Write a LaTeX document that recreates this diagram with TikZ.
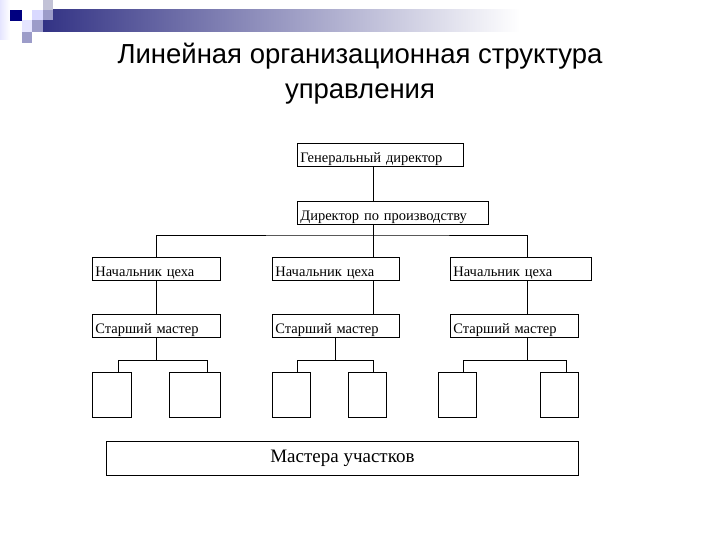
\documentclass[tikz,border=0pt]{standalone}
\usepackage{fontspec}
\setmainfont{Liberation Serif}
\newfontfamily\titlefont{Liberation Sans}
\begin{document}
\begin{tikzpicture}[x=1pt,y=-1pt,
  bx/.style={draw,thick,minimum height=23pt,text width=#1-6pt,inner xsep=3pt,inner ysep=0pt,text depth=2pt,text height=17pt,align=left,anchor=north west,font=\fontsize{14.5}{15}\selectfont},
  sq/.style={draw,thick,minimum width=#1,minimum height=45pt,anchor=north west,inner sep=0pt},
  ln/.style={thick}]
\useasboundingbox (0,0) rectangle (720,540);
\fill[white] (0,0) rectangle (720,540);
% decoration
\shade[left color=blue!40!black!80, right color=white] (43,10) rectangle (520,32);
\fill[left color=blue!10,right color=white] (0,0) rectangle (10,40);
\fill[blue!50!black] (10,10) rectangle (22,21);
\fill[blue!20!gray!40] (43,0) rectangle (53,10);
\fill[blue!15!white] (32,10) rectangle (43,20);
\fill[blue!30!gray!60] (43,10) rectangle (53,20);
\fill[blue!10!white] (22,20) rectangle (32,32);
\fill[blue!30!gray!60] (32,20) rectangle (43,32);
\fill[blue!30!gray!60] (22,32) rectangle (32,43);
% title
\node[font=\titlefont\fontsize{27.5}{35}\selectfont,align=center] (title) at (360,74) {Линейная организационная структура\\управления};
% nodes
\node[bx=166pt] (gd) at (297,143) {Генеральный директор};
\node[bx=191pt] (dp) at (297,201) {Директор по производству};
\node[bx=128pt] (n1) at (92,257) {Начальник цеха};
\node[bx=127pt] (n2) at (272,257) {Начальник цеха};
\node[bx=141pt] (n3) at (450,257) {Начальник цеха};
\node[bx=128pt] (s1) at (92,314) {Старший мастер};
\node[bx=127pt] (s2) at (272,314) {Старший мастер};
\node[bx=128pt] (s3) at (450,314) {Старший мастер};
\node[sq=39pt] (a1) at (92,372) {};
\node[sq=51pt] (a2) at (169,372) {};
\node[sq=38pt] (b1) at (272,372) {};
\node[sq=38pt] (b2) at (348,372) {};
\node[sq=38pt] (c1) at (438,372) {};
\node[sq=38pt] (c2) at (540,372) {};
\node[draw,thick,minimum width=472pt,minimum height=34pt,anchor=north west,font=\fontsize{19}{20}\selectfont] (m) at (106,441) {Мастера участков};
% connectors
\draw[ln] (gd.south -| 373,0) -- (dp.north -| 373,0);
\draw[ln] (dp.south -| 373,0) -- (n2.north -| 373,0);
\draw[ln] (n1.north -| 156,0) |- (373,235) -| (n3.north -| 527,0);
\draw[ln] (n1.south -| 156,0) -- (s1.north -| 156,0);
\draw[ln] (n2.south -| 373,0) -- (s2.north -| 373,0);
\draw[ln] (n3.south -| 527,0) -- (s3.north -| 527,0);
\draw[ln] (s1.south -| 156,0) -- (156,360);
\draw[ln] (a1.north -| 118,0) |- (207,360) -- (a2.north -| 207,0);
\draw[ln] (s2.south -| 335,0) -- (335,360);
\draw[ln] (b1.north -| 297,0) |- (373,360) -- (b2.north -| 373,0);
\draw[ln] (s3.south -| 527,0) -- (527,360);
\draw[ln] (c1.north -| 463,0) |- (566,360) -- (c2.north -| 566,0);
\end{tikzpicture}
\end{document}
